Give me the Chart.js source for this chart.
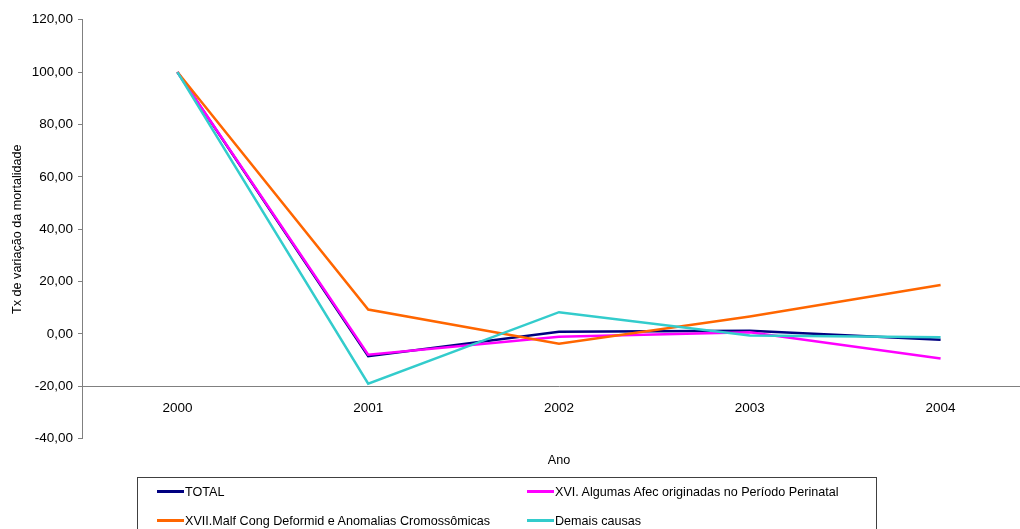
<!DOCTYPE html>
<html>
<head>
<meta charset="utf-8">
<script src="https://cdn.jsdelivr.net/npm/chart.js@4/dist/chart.umd.min.js"></script>
<style>
  body { margin: 0; width: 1020px; height: 529px; overflow: hidden; background: #fff; font-family: "Liberation Sans", Arial, sans-serif; }
  #wrap { position: absolute; left: 0; top: 0; width: 1036px; height: 529px; }
  #legend { position: absolute; left: 137px; top: 477px; width: 740px; height: 70px; border: 1px solid #404040; box-sizing: border-box; }
  .item { position: absolute; height: 16px; font-size: 12.6px; line-height: 16px; color: #000; white-space: nowrap; }
  .item span.ln { display: inline-block; width: 27px; height: 3px; vertical-align: middle; margin-right: 1px; position: relative; top: -1px; }
</style>
</head>
<body>
<div id="wrap"><canvas id="chart"></canvas></div>
<div id="legend"></div>
<script>
const years = ["2000", "2001", "2002", "2003", "2004"];
const seriesNames = ["TOTAL", "XVI. Algumas Afec originadas no Período Perinatal", "XVII.Malf Cong Deformid e Anomalias Cromossômicas", "Demais causas"];
const total = [100, -8.5, 0.8, 1.2, -2.2];
const perinatal = [100, -7.9, -1.1, 0.6, -9.4];
const malformacoes = [100, 9.3, -3.7, 6.7, 18.7];
const demais = [100, -19.0, 8.3, -0.6, -1.3];
const colors = ["#000080", "#FF00FF", "#FF6600", "#33CCCC"];
const yTicks = [-40, -20, 0, 20, 40, 60, 80, 100, 120];

const allValues = [total, perinatal, malformacoes, demais];

const datasets = allValues.map((vals, i) => ({
  label: seriesNames[i],
  data: vals,
  borderColor: colors[i],
  backgroundColor: colors[i],
  borderWidth: 2.5,
  pointRadius: 0,
  tension: 0,
  fill: false,
  order: 4 - i
}));

new Chart(document.getElementById('chart'), {
  type: 'line',
  data: { labels: years, datasets: datasets },
  options: {
    responsive: true,
    maintainAspectRatio: false,
    animation: false,
    layout: { padding: { top: 19.7, left: 0, right: 0, bottom: 0 } },
    plugins: {
      legend: { display: false },
      tooltip: { enabled: false },
      title: {
        display: true,
        text: 'Ano',
        position: 'bottom',
        fullSize: false,
        color: '#000',
        font: { family: '"Liberation Sans", Arial, sans-serif', size: 12.6, weight: 'normal' },
        padding: { top: 14.7, bottom: 60.5 }
      }
    },
    scales: {
      x: {
        position: { y: -20 },
        offset: true,
        grid: { display: false, drawTicks: false },
        border: { display: true, color: '#808080', width: 1 },
        ticks: { color: '#000', padding: 14, maxRotation: 0, font: { family: '"Liberation Sans", Arial, sans-serif', size: 13.5 } }
      },
      y: {
        min: -40,
        max: 120,
        afterFit: (scale) => { scale.width = 82; },
        afterBuildTicks: (scale) => { scale.ticks = yTicks.map(v => ({ value: v })); },
        grid: { drawOnChartArea: false, tickLength: 4, color: '#808080' },
        border: { display: true, color: '#808080', width: 1 },
        ticks: {
          color: '#000',
          padding: 5,
          font: { family: '"Liberation Sans", Arial, sans-serif', size: 13.5 },
          callback: (v) => v.toFixed(2).replace('.', ',')
        },
        title: {
          display: true,
          text: 'Tx de variação da mortalidade',
          color: '#000',
          font: { family: '"Liberation Sans", Arial, sans-serif', size: 12.6 },
          padding: { top: 10, bottom: 0 }
        }
      }
    }
  }
});

// legend: two columns, two rows, same order as the series
const legend = document.getElementById('legend');
const colX = [19, 389];
const rowY = [6, 35];
seriesNames.forEach((name, i) => {
  const div = document.createElement('div');
  div.className = 'item';
  div.style.left = colX[i % 2] + 'px';
  div.style.top = rowY[Math.floor(i / 2)] + 'px';
  const ln = document.createElement('span');
  ln.className = 'ln';
  ln.style.background = colors[i];
  div.appendChild(ln);
  div.appendChild(document.createTextNode(name));
  legend.appendChild(div);
});
</script>
</body>
</html>
